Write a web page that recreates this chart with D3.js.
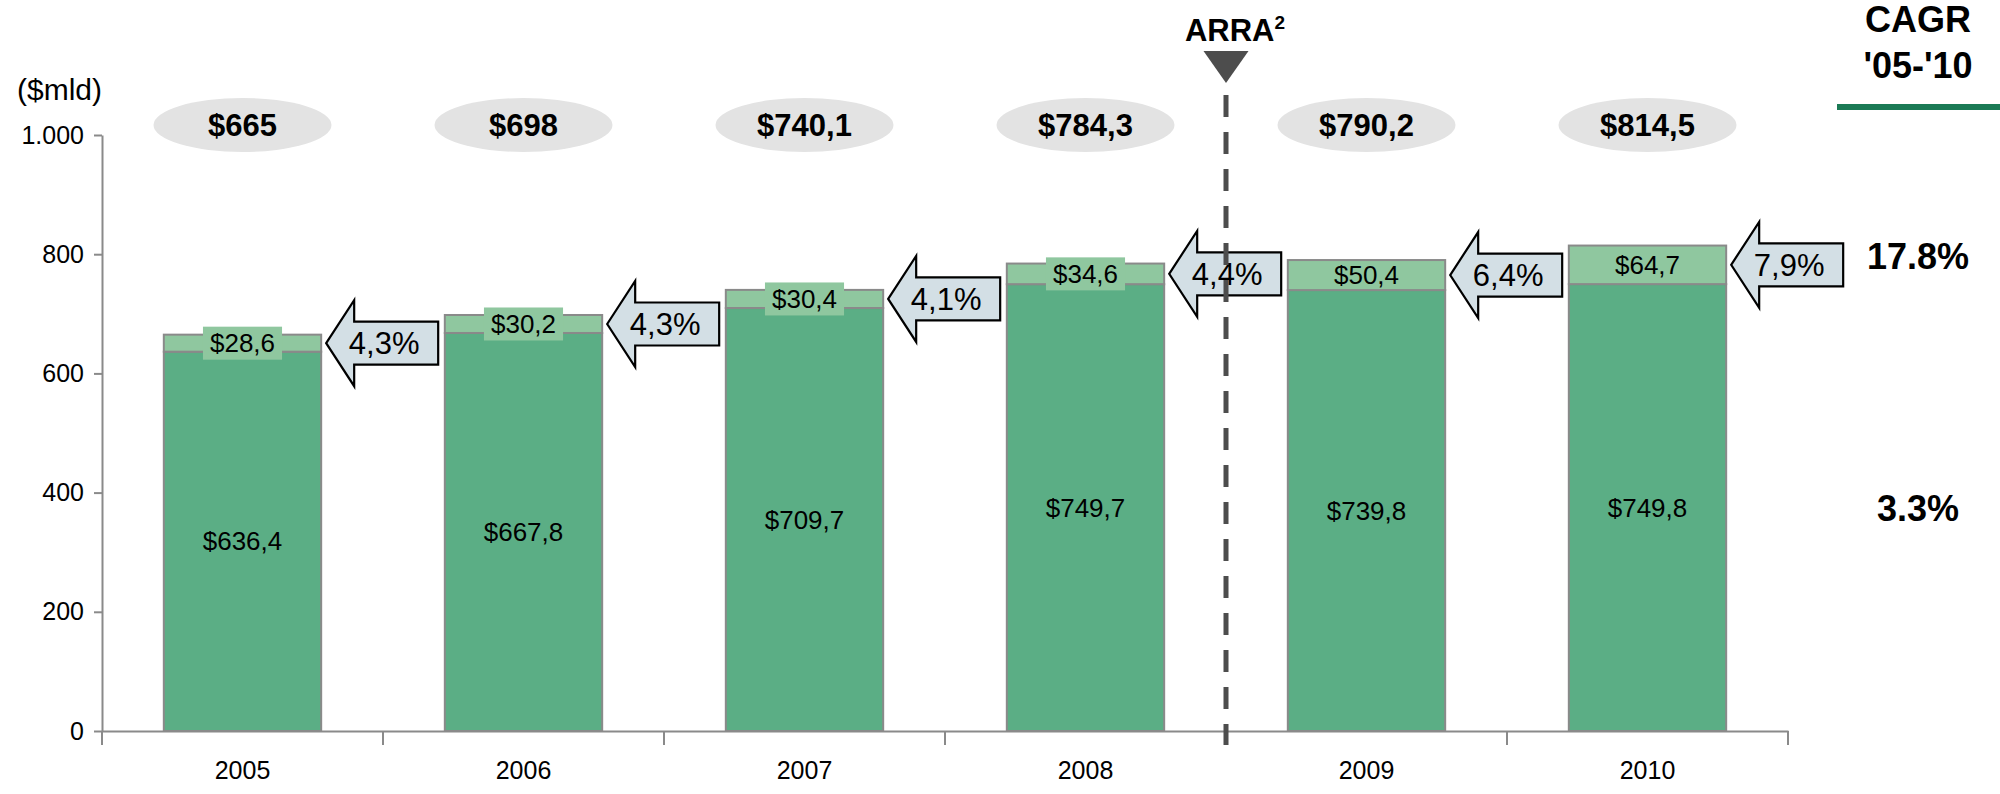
<!DOCTYPE html>
<html>
<head>
<meta charset="utf-8">
<script src="https://cdn.jsdelivr.net/npm/d3@7"></script>
<style>
  body { margin: 0; background: #fff; }
  svg { display: block; font-family: Arial, "Liberation Sans", sans-serif; }
</style>
</head>
<body>
<div id="chart"></div>
<script>
// data
const years = ["2005", "2006", "2007", "2008", "2009", "2010"]
const baseValues = [636.4, 667.8, 709.7, 749.7, 739.8, 749.8]
const topValues = [28.6, 30.2, 30.4, 34.6, 50.4, 64.7]
const totals = [665, 698, 740.1, 784.3, 790.2, 814.5]
const growth = [4.3, 4.3, 4.1, 4.4, 6.4, 7.9]
const cagrValues = [17.8, 3.3]
const yTicks = [0, 200, 400, 600, 800, 1000]
const markerYear = "2009"   // ARRA line sits just before this year

const width = 2000, height = 794
const margin = { top: 135, right: 212, bottom: 63, left: 102 }

const darkGreen = "#5bae85", lightGreen = "#8fc79f", edge = "#8a8a8a"

const it = d3.formatLocale({ decimal: ",", thousands: ".", grouping: [3], currency: ["$", ""] })
const money = v => "$" + (Number.isInteger(v) ? it.format(",d")(v) : it.format(",.1f")(v))
const pct = v => it.format(".1f")(v) + "%"

const rows = years.map((yr, i) => ({ year: yr, base: baseValues[i], top: topValues[i], total: totals[i], growth: growth[i] }))

const x = d3.scaleBand()
    .domain(years)
    .range([margin.left, width - margin.right])
    .paddingInner(0.44)
    .paddingOuter(0.22)

const y = d3.scaleLinear()
    .domain([0, 1000])
    .range([height - margin.bottom, margin.top])

const series = d3.stack().keys(["base", "top"])(rows)

const svg = d3.select("#chart")
    .append("svg")
    .attr("width", width)
    .attr("height", height)
    .attr("viewBox", [0, 0, width, height])

// y axis
const yAxis = svg.append("g")
    .attr("transform", `translate(${margin.left},0)`)
    .call(d3.axisLeft(y).tickValues(yTicks).tickFormat(it.format(",d")).tickSize(8).tickSizeOuter(0).tickPadding(10))
yAxis.selectAll("text").attr("font-size", 25).attr("fill", "#000").attr("font-family", null)
yAxis.selectAll("line, path").attr("stroke", edge).attr("stroke-width", 2)

svg.append("text")
    .attr("x", 17)
    .attr("y", 100)
    .attr("font-size", 30)
    .text("($mld)")

// bars
svg.append("g")
    .selectAll("g")
    .data(series)
    .join("g")
    .attr("fill", (d, i) => i === 0 ? darkGreen : lightGreen)
    .selectAll("rect")
    .data(d => d)
    .join("rect")
    .attr("x", d => x(d.data.year))
    .attr("y", d => y(d[1]))
    .attr("width", x.bandwidth())
    .attr("height", d => y(d[0]) - y(d[1]))
    .attr("stroke", edge)
    .attr("stroke-width", 2)

// x axis
const x0 = y(0)
const xAxis = svg.append("g")
    .attr("transform", `translate(0,${x0})`)
    .call(d3.axisBottom(x).tickSize(0).tickPadding(30).tickSizeOuter(0))
xAxis.selectAll("text").attr("font-size", 25).attr("fill", "#000").attr("font-family", null)
xAxis.select(".domain").attr("stroke", edge).attr("stroke-width", 2)
const bounds = d3.range(years.length + 1).map(i => x(years[0]) - x.step() * x.paddingInner() / 2 + i * x.step())
svg.append("g")
    .selectAll("line")
    .data(bounds)
    .join("line")
    .attr("x1", d => d).attr("x2", d => d)
    .attr("y1", x0).attr("y2", x0 + 14)
    .attr("stroke", edge)
    .attr("stroke-width", 2)

// value labels in the dark segment
svg.append("g")
    .selectAll("text")
    .data(rows)
    .join("text")
    .attr("x", d => x(d.year) + x.bandwidth() / 2)
    .attr("y", d => y(d.base / 2))
    .attr("dy", "0.35em")
    .attr("text-anchor", "middle")
    .attr("font-size", 26)
    .text(d => money(d.base))

// value labels on the light segment; a box behind them only when the segment is thin
const topLab = svg.append("g")
    .selectAll("g")
    .data(rows)
    .join("g")
    .attr("transform", d => `translate(${x(d.year) + x.bandwidth() / 2},${y(d.base + d.top / 2)})`)
const topBg = topLab.append("rect").attr("fill", lightGreen)
const topTxt = topLab.append("text")
    .attr("dy", "0.35em")
    .attr("text-anchor", "middle")
    .attr("font-size", 26)
    .text(d => money(d.top))
topTxt.each(function (d, i) {
    const segH = y(d.base) - y(d.base + d.top)
    if (segH > 25) { topBg.nodes()[i].remove(); return }
    const w = this.getComputedTextLength() + 14
    d3.select(topBg.nodes()[i]).attr("x", -w / 2).attr("y", -16.5).attr("width", w).attr("height", 33)
})

// total ellipses
const tot = svg.append("g")
    .selectAll("g")
    .data(rows)
    .join("g")
    .attr("transform", d => `translate(${x(d.year) + x.bandwidth() / 2},125)`)
tot.append("ellipse").attr("rx", 89).attr("ry", 27).attr("fill", "#e3e3e3")
tot.append("text")
    .attr("dy", "0.36em")
    .attr("text-anchor", "middle")
    .attr("font-size", 31)
    .attr("font-weight", "bold")
    .text(d => money(d.total))

// growth arrows
const arrowPath = "M0,0 L28,-43 L28,-21.5 L112,-21.5 L112,21.5 L28,21.5 L28,43 Z"
const arrows = svg.append("g")
    .selectAll("g")
    .data(rows)
    .join("g")
    .attr("transform", d => `translate(${x(d.year) + x.bandwidth() + 5},${y(d.base + d.top / 2)})`)
arrows.append("path")
    .attr("d", arrowPath)
    .attr("fill", "#d3dfe5")
    .attr("stroke", "#000")
    .attr("stroke-width", 2.2)
    .attr("stroke-linejoin", "miter")

// ARRA marker
const mx = x(markerYear) - x.step() * x.paddingInner() / 2
svg.append("line")
    .attr("x1", mx).attr("x2", mx)
    .attr("y1", 95).attr("y2", x0 + 14)
    .attr("stroke", "#4d4d4d")
    .attr("stroke-width", 5)
    .attr("stroke-dasharray", "22,15")
svg.append("path")
    .attr("d", `M${mx - 22.5},51 L${mx + 22.5},51 L${mx},83 Z`)
    .attr("fill", "#4d4d4d")
const arra = svg.append("text")
    .attr("x", mx + 9)
    .attr("y", 41)
    .attr("text-anchor", "middle")
    .attr("font-size", 31)
    .attr("font-weight", "bold")
arra.append("tspan").text("ARRA")
arra.append("tspan").attr("font-size", 19).attr("dy", -12).text("2")

arrows.append("text")
    .attr("x", 58)
    .attr("dy", "0.36em")
    .attr("text-anchor", "middle")
    .attr("font-size", 31)
    .text(d => pct(d.growth))

// CAGR column
const cx = 1918
svg.append("text").attr("x", cx).attr("y", 32).attr("text-anchor", "middle")
    .attr("font-size", 36).attr("font-weight", "bold").text("CAGR")
svg.append("text").attr("x", cx).attr("y", 78).attr("text-anchor", "middle")
    .attr("font-size", 36).attr("font-weight", "bold").text("'05-'10")
svg.append("rect").attr("x", 1837).attr("y", 104).attr("width", 163).attr("height", 6).attr("fill", "#1b7a55")
svg.append("g")
    .selectAll("text")
    .data(cagrValues)
    .join("text")
    .attr("x", cx)
    .attr("y", (d, i) => [269, 521][i])
    .attr("text-anchor", "middle")
    .attr("font-size", 36)
    .attr("font-weight", "bold")
    .text(d => d.toFixed(1) + "%")
</script>
</body>
</html>
